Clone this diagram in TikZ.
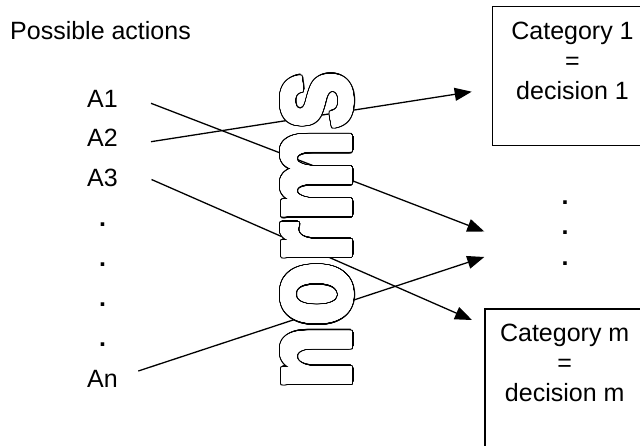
\documentclass[tikz,border=0pt]{standalone}
\usepackage{fontspec}
\setmainfont{Liberation Sans}
\usepackage[copies]{contour}
\usetikzlibrary{arrows.meta}
\contournumber{64}
\newcommand{\normsword}{\scalebox{1.04}[1.28]{\fontsize{100}{100}\selectfont\bfseries norms}}

\begin{document}
\begin{tikzpicture}[x=1pt,y=-1pt,
  txt/.style={font=\fontsize{25}{30}\selectfont, inner sep=0pt},
  lbl/.style={txt, anchor=base},
  dot/.style={lbl, font=\fontsize{25}{30}\selectfont\bfseries},
  catbox/.style={draw, line width=1.3pt, minimum width=162pt, minimum height=139pt,
                 anchor=north west, inner sep=0pt},
  link/.style={line width=1.3pt, -{Triangle[length=17pt,width=13pt]}},
  word/.style={rotate=90, anchor=base, inner sep=0pt}]
  \useasboundingbox (0,0) rectangle (640,446);
  \clip (0,0) rectangle (640,446);

  % heading
  \node[txt, anchor=base west] (head) at (10,40) {Possible actions};

  % list of actions
  \node[lbl] (a1) at (102.5,108) {A1};
  \node[lbl] (a2) at (102.5,147) {A2};
  \node[lbl] (a3) at (102.5,187) {A3};
  \node[dot] (d1) at (102.5,227) {.};
  \node[dot] (d2) at (102.5,267) {.};
  \node[dot] (d3) at (102.5,307) {.};
  \node[dot] (d4) at (102.5,347) {.};
  \node[lbl] (an) at (102.5,387) {An};

  % category boxes
  \node[catbox] (box1) at (491.7,6) {};
  \node[txt, align=center, anchor=north] (cat1) at (572.5,21.8)
    {Category 1\\=\\decision 1};
  \node[catbox] (boxm) at (484.3,308.3) {};
  \node[txt, align=center, anchor=north] (catm) at (564.7,323.8)
    {Category m\\=\\decision m};

  % categories in between
  \node[dot] (m1) at (565,205) {.};
  \node[dot] (m2) at (565,235) {.};
  \node[dot] (m3) at (565,266) {.};

  % connector ends
  \coordinate (s1) at (151,103.3);
  \coordinate (s2) at (151,141.7);
  \coordinate (s3) at (151.5,179.5);
  \coordinate (sn) at (138.3,371);
  \coordinate (e1) at (484.3,231.5);
  \coordinate (e2) at (471.7,91.7);
  \coordinate (e3) at (472,320);
  \coordinate (en) at (484.3,257);

  \draw[link] (s1) -- (e1);
  \draw[link] (s2) -- (e2);
  \draw[link] (s3) -- (e3);
  \draw[link] (sn) -- (en);

  % outlined word across the connectors: black rim, then white emboldened letters
  \contourlength{3pt}
  \node[word, text=black] (normsrim) at (351,231) {\contour{black}{\normsword}};
  \contourlength{1.6pt}
  \node[word, text=white] (norms) at (351,231) {\contour{white}{\normsword}};
\end{tikzpicture}
\end{document}
